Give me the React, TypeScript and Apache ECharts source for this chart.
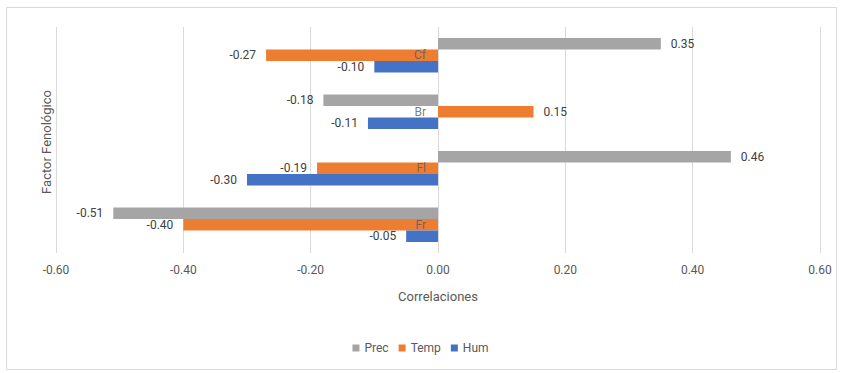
import React, { useEffect, useRef } from "react";
import * as echarts from "echarts";

// Correlation of each phenological factor with climate variables
const categories = ["Cf", "Br", "Fl", "Fr"];
const precValues = [0.35, -0.18, 0.46, -0.51];
const tempValues = [-0.27, 0.15, -0.19, -0.4];
const humValues = [-0.1, -0.11, -0.3, -0.05];
const seriesNames = ["Prec", "Temp", "Hum"];
const seriesColors = ["#A5A5A5", "#ED7D31", "#4472C4"];

const FONT = "'Liberation Sans Narrow', Roboto, 'Noto Sans', sans-serif";

function withLabels(values: number[]) {
  return values.map((v) => ({
    value: v,
    label: { position: v < 0 ? "left" : "right" },
  }));
}

export default function App() {
  const ref = useRef<HTMLDivElement>(null);

  useEffect(() => {
    if (!ref.current) return;
    const chart = echarts.init(ref.current, undefined, { renderer: "svg" });
    const allValues = [precValues, tempValues, humValues];
    chart.setOption({
      animation: false,
      textStyle: { fontFamily: FONT },
      graphic: [
        {
          type: "rect",
          shape: { x: 6.5, y: 7.5, width: 830, height: 362 },
          style: { fill: "none", stroke: "#D9D9D9", lineWidth: 1 },
          silent: true,
        },
        {
          type: "text",
          x: 46,
          y: 142,
          rotation: Math.PI / 2,
          style: {
            text: "Factor Fenológico",
            fontFamily: FONT,
            fontSize: 13,
            fill: "#595959",
            textAlign: "center",
            textVerticalAlign: "middle",
          },
        },
      ],
      legend: {
        bottom: 14,
        left: "center",
        itemWidth: 7,
        itemHeight: 7,
        itemGap: 10,
        icon: "rect",
        textStyle: { color: "#595959", fontSize: 12, fontFamily: FONT },
        data: seriesNames,
      },
      grid: { left: 56, right: 21, top: 27, bottom: 120 },
      xAxis: {
        type: "value",
        min: -0.6,
        max: 0.6,
        interval: 0.2,
        name: "Correlaciones",
        nameLocation: "middle",
        nameGap: 37,
        nameTextStyle: { color: "#595959", fontSize: 13, fontFamily: FONT },
        axisLine: { show: false },
        axisTick: { show: false },
        axisLabel: {
          color: "#595959",
          fontSize: 12,
          margin: 11,
          formatter: (v: number) => v.toFixed(2),
        },
        splitLine: { show: true, lineStyle: { color: "#D9D9D9", width: 1 } },
      },
      yAxis: {
        type: "category",
        data: categories,
        inverse: true,
        axisLine: { show: false },
        axisTick: { show: false },
        axisLabel: { show: false },
      },
      series: [
        ...seriesNames.map((name, i) => ({
          name,
          type: "bar",
          data: withLabels(allValues[i]),
          itemStyle: { color: seriesColors[i] },
          barGap: "0%",
          barCategoryGap: "39%",
          label: {
            show: true,
            distance: 10,
            color: "#404040",
            fontSize: 12,
            fontFamily: FONT,
            formatter: (p: any) => Number(p.value).toFixed(2),
          },
        })),
        // Category names sit beside the zero line, as the axis labels
        {
          name: "categoryLabels",
          type: "scatter",
          symbolSize: 0,
          silent: true,
          z: 5,
          data: categories.map((c) => [0, c]),
          label: {
            show: true,
            position: "left",
            distance: 12,
            color: "#595959",
            fontSize: 12,
            fontFamily: FONT,
            formatter: (p: any) => p.data[1],
          },
        },
      ],
    });
    return () => chart.dispose();
  }, []);

  return (
    <div
      ref={ref}
      style={{ position: "fixed", left: 0, top: 0, width: 841, height: 373, background: "#fff" }}
    />
  );
}
